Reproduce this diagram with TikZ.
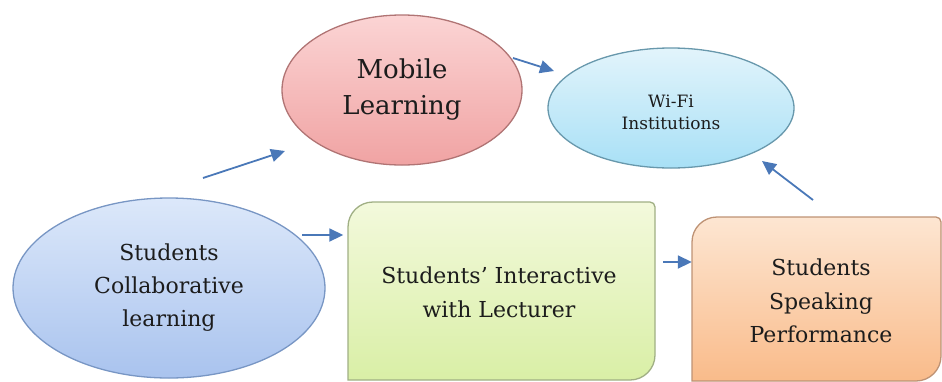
\documentclass[tikz,border=0pt]{standalone}
\usepackage{fontspec}
\newfontfamily\dvserif{DejaVu Serif}
\usetikzlibrary{shapes.geometric,arrows.meta}

\definecolor{arrowblue}{HTML}{4A78B8}
\definecolor{txt}{HTML}{1C1C1C}
\definecolor{greentop}{RGB}{243,249,220}
\definecolor{greenbot}{RGB}{217,239,166}
\definecolor{greenline}{RGB}{160,175,132}
\definecolor{orangetop}{RGB}{253,230,210}
\definecolor{orangebot}{RGB}{249,187,138}
\definecolor{orangeline}{RGB}{190,146,116}
\definecolor{bluetop}{RGB}{220,232,250}
\definecolor{bluebot}{RGB}{169,195,238}
\definecolor{blueline}{RGB}{120,150,196}
\definecolor{pinktop}{RGB}{251,212,212}
\definecolor{pinkbot}{RGB}{240,163,163}
\definecolor{pinkline}{RGB}{176,116,116}
\definecolor{cyantop}{RGB}{226,244,251}
\definecolor{cyanbot}{RGB}{168,224,246}
\definecolor{cyanline}{RGB}{104,152,172}

\tikzset{
  bubble/.style={ellipse, inner sep=0pt, line width=1.3pt, align=center, text=txt},
  boxtext/.style={rectangle, inner sep=0pt, align=center, text=txt},
  boxline/.style={line width=1.3pt},
  arr/.style={draw=arrowblue, line width=1.8pt, -{Triangle[length=14pt,width=13pt]}},
}

\begin{document}
\begin{tikzpicture}[x=1pt, y=-1pt]
  \useasboundingbox (0,0) rectangle (942,381);

  % rounded-diagonal boxes
  \draw[boxline, top color=greentop, bottom color=greenbot, draw=greenline]
    (348,380) -- (348,227) arc[start angle=180, end angle=90, radius=25pt]
    -- (650,202) arc[start angle=90, end angle=0, radius=5pt]
    -- (655,355) arc[start angle=0, end angle=-90, radius=25pt]
    -- cycle;
  \draw[boxline, top color=orangetop, bottom color=orangebot, draw=orangeline]
    (692,381) -- (692,242) arc[start angle=180, end angle=90, radius=25pt]
    -- (936,217) arc[start angle=90, end angle=0, radius=5pt]
    -- (941,356) arc[start angle=0, end angle=-90, radius=25pt]
    -- cycle;

  % text of the boxes
  \node[boxtext, minimum width=307pt, minimum height=178pt] (interact) at (501,291) {};
  \node[boxtext, font=\dvserif\fontsize{22}{34}\selectfont] (interacttxt) at (499,292)
    {Students’ Interactive\\with Lecturer};
  \node[boxtext, minimum width=249pt, minimum height=164pt] (speak) at (816.5,299) {};
  \node[boxtext, font=\dvserif\fontsize{22}{33.5}\selectfont] (speaktxt) at (821,301)
    {Students\\Speaking\\Performance};

  % ellipses
  \node[bubble, minimum width=312pt, minimum height=180pt,
        top color=bluetop, bottom color=bluebot, draw=blueline,
        font=\dvserif\fontsize{22}{33}\selectfont] (collab) at (169,288)
    {Students\\Collaborative\\learning};
  \node[bubble, minimum width=240pt, minimum height=150pt,
        top color=pinktop, bottom color=pinkbot, draw=pinkline,
        font=\dvserif\fontsize{26}{36}\selectfont] (mobile) at (402,90)
    {Mobile\\Learning};
  \node[bubble, minimum width=246pt, minimum height=120pt,
        top color=cyantop, bottom color=cyanbot, draw=cyanline] (wifi) at (671,108) {};
  \node[boxtext, font=\dvserif\fontsize{17}{22}\selectfont] (wifitxt) at (671,112)
    {Wi-Fi\\Institutions};

  % connector ends
  \coordinate (s1) at (203,178);
  \coordinate (e1) at (285,151);
  \coordinate (s2) at (513,58);
  \coordinate (e2) at (554,71);
  \coordinate (s3) at (813,200);
  \coordinate (e3) at (762,161);
  \coordinate (s4) at (302,235);
  \coordinate (s5) at (663,262);

  % connectors
  \draw[arr] (s1) -- (e1);
  \draw[arr] (s2) -- (e2);
  \draw[arr] (s3) -- (e3);
  \draw[arr] (s4) -- ([xshift=-4pt]interact.west |- s4);
  \draw[arr] (s5) -- (speak.west |- s5);
\end{tikzpicture}
\end{document}
